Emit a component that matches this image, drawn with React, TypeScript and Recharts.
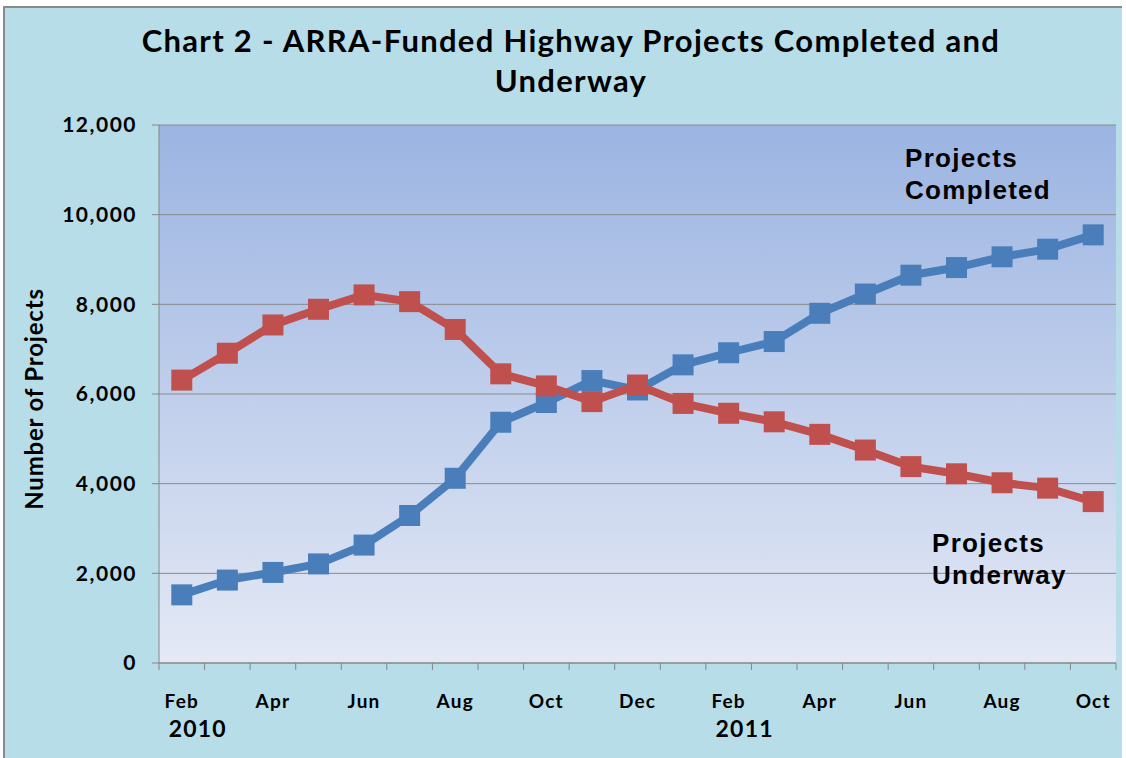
import React from "react";
import { CartesianGrid, Line, LineChart, XAxis, YAxis } from "recharts";

// Feb 2010 .. Oct 2011, one point per month
const months = [
  "Feb", "Mar", "Apr", "May", "Jun", "Jul", "Aug", "Sep", "Oct", "Nov", "Dec",
  "Jan", "Feb", "Mar", "Apr", "May", "Jun", "Jul", "Aug", "Sep", "Oct",
];
const years: Record<number, string> = { 0: "2010", 12: "2011" };

const completed = [
  1520, 1850, 2020, 2210, 2630, 3290, 4120, 5370, 5810, 6300, 6090,
  6650, 6920, 7170, 7800, 8230, 8650, 8820, 9060, 9230, 9550,
];
const underway = [
  6310, 6910, 7540, 7890, 8210, 8060, 7440, 6450, 6180, 5830, 6200,
  5790, 5570, 5380, 5100, 4750, 4380, 4220, 4020, 3900, 3600,
];

const yTicks = [0, 2000, 4000, 6000, 8000, 10000, 12000];

// category i sits in the middle of band [i, i+1]; ticks at band edges and centres
const data = months.map((m, i) => ({ pos: i + 0.5, month: m, completed: completed[i], underway: underway[i] }));
const xTicks: number[] = [];
for (let i = 0; i <= months.length * 2; i++) xTicks.push(i / 2);

const BLUE = "#4a7ebb";
const RED = "#c0504d";
const AXIS = "#868686";
const LABEL_FONT = "Lato, 'Open Sans', sans-serif";

function MonthTick(props: any) {
  const { x, y, payload } = props;
  const v = payload.value as number;
  if (Number.isInteger(v)) {
    return <line x1={x} x2={x} y1={y} y2={y + 7} stroke={AXIS} />;
  }
  const i = v - 0.5;
  return (
    <g>
      {i % 2 === 0 && (
        <text x={x} y={y + 45} textAnchor="middle" fontFamily={LABEL_FONT} fontWeight={700} fontSize={19} letterSpacing={1.2} fill="#000">
          {months[i]}
        </text>
      )}
      {years[i] && (
        <text x={x + 16} y={y + 74} textAnchor="middle" fontFamily={LABEL_FONT} fontWeight={700} fontSize={23} letterSpacing={1.2} fill="#000">
          {years[i]}
        </text>
      )}
    </g>
  );
}

function SquareDot(color: string) {
  return (props: any) => {
    const { cx, cy, index } = props;
    return <rect key={index} x={cx - 10.5} y={cy - 10.5} width={21} height={21} fill={color} />;
  };
}

function YLabel(props: any) {
  const { viewBox } = props;
  const cx = viewBox.x + 33;
  const cy = viewBox.y + viewBox.height / 2 + 5;
  return (
    <text x={cx} y={cy} transform={`rotate(-90 ${cx} ${cy})`} textAnchor="middle" dominantBaseline="central" fontFamily={LABEL_FONT} fontWeight={700} fontSize={24} letterSpacing={0.8} fill="#000">
      Number of Projects
    </text>
  );
}

const seriesLabel: React.CSSProperties = {
  position: "absolute",
  fontFamily: "'Liberation Sans', Arial, sans-serif",
  fontWeight: 700,
  fontSize: 26,
  letterSpacing: 1.3,
  lineHeight: "32px",
  color: "#000",
};

export default function App() {
  return (
    <div style={{ position: "absolute", left: 0, top: 0, width: 1126, height: 758, background: "#fff" }}>
      <svg width={0} height={0} style={{ position: "absolute" }}>
        <defs>
          <linearGradient id="plotBg" x1="0" y1="0" x2="0" y2="1">
            <stop offset="0%" stopColor="#9bb4e2" />
            <stop offset="100%" stopColor="#e4e9f5" />
          </linearGradient>
        </defs>
      </svg>
      <div
        style={{
          position: "absolute",
          left: 3,
          top: 6,
          width: 1117,
          height: 750,
          background: "#b6dde8",
          borderTop: "2px solid #8a8a8a",
          borderLeft: "2px solid #8a8a8a",
        }}
      />
      <div
        style={{
          position: "absolute",
          left: 0,
          top: 20,
          width: 1142,
          textAlign: "center",
          fontFamily: LABEL_FONT,
          fontWeight: 700,
          fontSize: 31,
          letterSpacing: 1.3,
          lineHeight: "40px",
          color: "#000",
        }}
      >
        Chart 2 - ARRA-Funded Highway Projects Completed and
        <br />
        Underway
      </div>
      <div style={{ position: "absolute", left: 0, top: 0 }}>
        <LineChart width={1126} height={758} data={data} margin={{ top: 125, right: 10, left: 0, bottom: 0 }}>
          <CartesianGrid vertical={false} stroke="#8a8a8a" fill="url(#plotBg)" fillOpacity={1} />
          <XAxis
            dataKey="pos"
            type="number"
            domain={[0, months.length]}
            ticks={xTicks}
            interval={0}
            height={95}
            tick={<MonthTick />}
            tickLine={false}
            tickSize={0}
            tickMargin={0}
            axisLine={{ stroke: AXIS }}
          />
          <YAxis
            width={159}
            domain={[0, 12000]}
            ticks={yTicks}
            interval={0}
            tickFormatter={(v: number) => v.toLocaleString("en-US")}
            tick={{ fill: "#000", fontSize: 21, fontWeight: 700, fontFamily: LABEL_FONT, letterSpacing: 1.5 }}
            tickLine={{ stroke: AXIS }}
            tickSize={7}
            tickMargin={15}
            axisLine={{ stroke: AXIS }}
            label={<YLabel />}
          />
          <Line
            dataKey="completed"
            stroke={BLUE}
            strokeWidth={8}
            dot={SquareDot(BLUE)}
            activeDot={false}
            isAnimationActive={false}
          />
          <Line
            dataKey="underway"
            stroke={RED}
            strokeWidth={8}
            dot={SquareDot(RED)}
            activeDot={false}
            isAnimationActive={false}
          />
        </LineChart>
      </div>
      <div style={{ ...seriesLabel, left: 905, top: 142 }}>
        Projects
        <br />
        Completed
      </div>
      <div style={{ ...seriesLabel, left: 932, top: 527 }}>
        Projects
        <br />
        Underway
      </div>
    </div>
  );
}
